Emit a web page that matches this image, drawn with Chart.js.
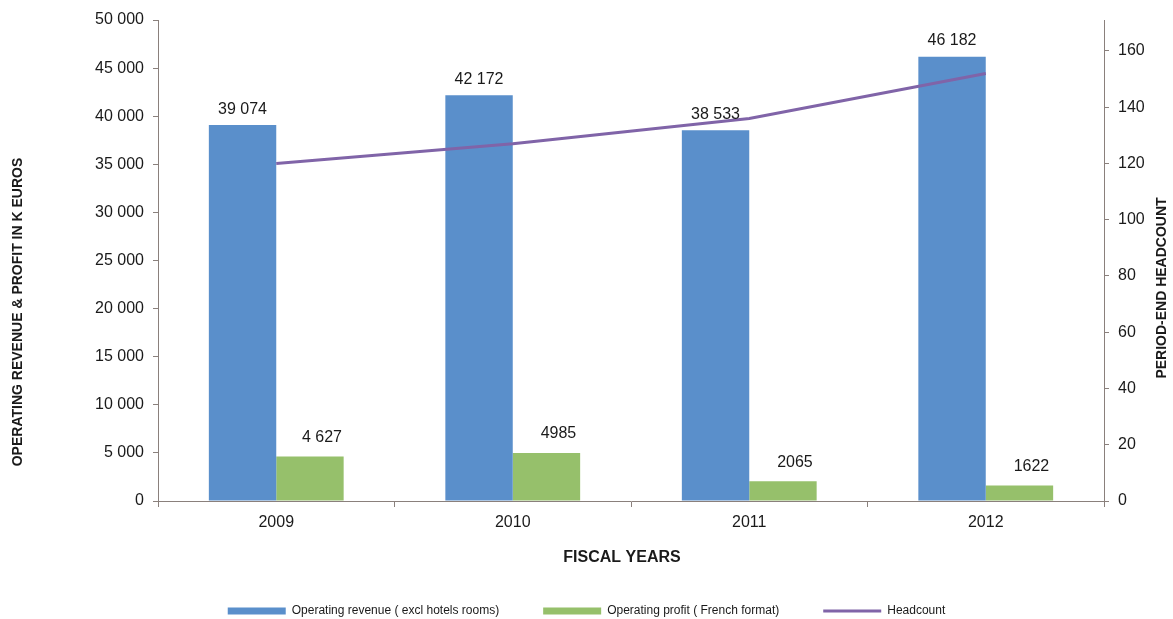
<!DOCTYPE html>
<html>
  <head>
    <title>Operating revenue, profit and headcount</title>
    <style>
      html, body { margin: 0; padding: 0; background: #fff; }
      #wrap { width: 1173px; height: 619px; }
    </style>
    <script src="https://cdn.jsdelivr.net/npm/chart.js"></script>
  </head>
  <body>
    <div id="wrap"><canvas id="chart"></canvas></div>

    <script>
      // data
      var years = ["2009", "2010", "2011", "2012"];
      var revenue = [39074, 42172, 38533, 46182];
      var profit = [4627, 4985, 2065, 1622];
      var headcount = [120, 127, 136, 152];
      var revenueLabels = ["39 074", "42 172", "38 533", "46 182"];
      var profitLabels = ["4 627", "4985", "2065", "1622"];
      var rightTicks = [0, 20, 40, 60, 80, 100, 120, 140, 160];

      var FONT = '"Liberation Sans", Arial, sans-serif';
      var axisColor = "#8a807c";
      var textColor = "#1a1a1a";

      function spaced(v) {
        return String(v).replace(/\B(?=(\d{3})+(?!\d))/g, " ");
      }

      // value labels above bars + the axis titles
      var extras = {
        id: "extras",
        afterDatasetsDraw: function (chart) {
          var ctx = chart.ctx;
          ctx.save();
          ctx.fillStyle = textColor;
          ctx.textAlign = "center";
          ctx.textBaseline = "middle";
          ctx.font = "16px " + FONT;
          chart.getDatasetMeta(0).data.forEach(function (bar, i) {
            ctx.fillText(revenueLabels[i], bar.x, bar.y - 16);
          });
          chart.getDatasetMeta(1).data.forEach(function (bar, i) {
            ctx.fillText(profitLabels[i], bar.x + 12, bar.y - 19);
          });

          ctx.font = "bold 16px " + FONT;
          ctx.fillText("FISCAL YEARS", 622, 558);

          ctx.font = "bold 14px " + FONT;
          ctx.save();
          ctx.translate(18, 312);
          ctx.rotate(-Math.PI / 2);
          ctx.fillText("OPERATING REVENUE & PROFIT IN K EUROS", 0, 0);
          ctx.restore();
          ctx.save();
          ctx.translate(1162, 288);
          ctx.rotate(-Math.PI / 2);
          ctx.fillText("PERIOD-END HEADCOUNT", 0, 0);
          ctx.restore();
          ctx.restore();
        },
      };

      var ctx = document.getElementById("chart").getContext("2d");
      var chart = new Chart(ctx, {
        type: "bar",
        data: {
          labels: years,
          datasets: [
            {
              label: "Operating revenue ( excl hotels rooms)",
              data: revenue,
              backgroundColor: "#5a8fcb",
              yAxisID: "y",
              order: 1,
            },
            {
              label: "Operating profit ( French format)",
              data: profit,
              backgroundColor: "#96c06b",
              yAxisID: "y",
              order: 2,
            },
            {
              type: "line",
              label: "Headcount",
              data: headcount,
              borderColor: "#8064a8",
              backgroundColor: "#8064a8",
              borderWidth: 3,
              pointRadius: 0,
              pointHoverRadius: 0,
              tension: 0,
              yAxisID: "y1",
              order: 0,
            },
          ],
        },
        options: {
          responsive: true,
          maintainAspectRatio: false,
          animation: false,
          layout: { padding: { top: 20, left: 0, right: 0, bottom: 0 } },
          datasets: {
            bar: { categoryPercentage: 0.57, barPercentage: 1.0 },
          },
          plugins: {
            tooltip: { enabled: false },
            legend: {
              position: "bottom",
              maxHeight: 58,
              labels: {
                usePointStyle: true,
                pointStyleWidth: 58,
                boxHeight: 7,
                padding: 44,
                color: textColor,
                font: { family: FONT, size: 12 },
                sort: function (a, b) {
                  return a.datasetIndex - b.datasetIndex;
                },
                generateLabels: function (chart) {
                  var items =
                    Chart.defaults.plugins.legend.labels.generateLabels(chart);
                  items.forEach(function (it) {
                    var ds = chart.data.datasets[it.datasetIndex];
                    if (ds.type === "line") {
                      it.pointStyle = "line";
                      it.lineWidth = 3;
                      it.strokeStyle = ds.borderColor;
                    } else {
                      it.pointStyle = "rect";
                      it.lineWidth = 0;
                    }
                  });
                  return items;
                },
              },
            },
          },
          scales: {
            x: {
              grid: {
                offset: true,
                drawOnChartArea: false,
                color: axisColor,
                tickLength: 6,
              },
              border: { color: axisColor },
              ticks: {
                color: textColor,
                padding: 6,
                font: { family: FONT, size: 16 },
              },
              afterFit: function (s) {
                s.height = 60;
              },
            },
            y: {
              position: "left",
              min: 0,
              max: 50000,
              grid: {
                drawOnChartArea: false,
                color: axisColor,
                tickLength: 5,
              },
              border: { color: axisColor },
              ticks: {
                stepSize: 5000,
                color: textColor,
                padding: 9,
                font: { family: FONT, size: 16 },
                callback: function (v) {
                  return spaced(v);
                },
              },
              afterFit: function (s) {
                s.width = 158;
              },
            },
            y1: {
              position: "right",
              min: 0,
              max: 171,
              grid: {
                drawOnChartArea: false,
                color: axisColor,
                tickLength: 5,
              },
              border: { color: axisColor },
              ticks: {
                color: textColor,
                padding: 9,
                font: { family: FONT, size: 16 },
              },
              afterBuildTicks: function (s) {
                s.ticks = rightTicks.map(function (v) {
                  return { value: v };
                });
              },
              afterFit: function (s) {
                s.width = 69;
              },
            },
          },
        },
        plugins: [extras],
      });
    </script>
  </body>
</html>
